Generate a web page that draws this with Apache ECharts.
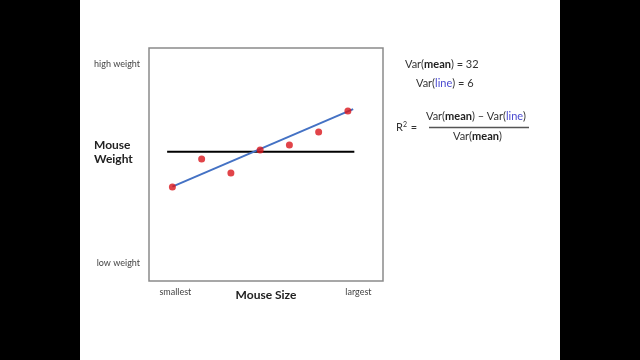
<!DOCTYPE html>
<html>
<head>
<meta charset="utf-8">
<script src="https://cdn.jsdelivr.net/npm/echarts@6/dist/echarts.min.js"></script>
<style>html,body{margin:0;padding:0;background:#000;}#c{width:640px;height:360px;}</style>
</head>
<body>
<div id="c"></div>
<script>
const sizes = [1, 2, 3, 4, 5, 6, 7];
const weights = [40.3, 52.4, 46.4, 56.2, 58.4, 63.9, 73.0];
const meanLineX = [0.82, 7.22];
const meanValue = 55.5;
const fitLineX = [1, 7.18];
const fitLineY = [40.5, 73.8];
const yTickValues = [7.7, 92.9];
const yTickLabels = ['low weight', 'high weight'];
const xTickValues = [1.1, 7.36];
const xTickLabels = ['smallest', 'largest'];
const varMean = 32;
const varLine = 6;

const font = 'Lato, "Open Sans", sans-serif';
const chart = echarts.init(document.getElementById('c'));
function lookup(vals, labels, v) {
  for (let i = 0; i < vals.length; i++) if (Math.abs(vals[i] - v) < 1e-6) return labels[i];
  return '';
}
const blue = '#4a4ad0';
chart.setOption({
  backgroundColor: '#000',
  animation: false,
  grid: { left: 149, top: 48, width: 234, height: 233, show: true, borderColor: '#8a8a8a', borderWidth: 1.5, backgroundColor: '#fff' },
  xAxis: {
    type: 'value', min: 0.2, max: 8.2,
    axisLine: { show: false }, axisTick: { show: false }, splitLine: { show: false },
    axisLabel: { customValues: xTickValues, formatter: v => lookup(xTickValues, xTickLabels, v), color: '#444', fontFamily: font, fontSize: 9, margin: 7 },
    name: 'Mouse Size', nameLocation: 'middle', nameGap: 8, nameMoveOverlap: false,
    nameTextStyle: { color: '#222', fontFamily: font, fontSize: 12, fontWeight: 'bold' }
  },
  yAxis: {
    type: 'value', min: 0, max: 100,
    axisLine: { show: false }, axisTick: { show: false }, splitLine: { show: false },
    axisLabel: { customValues: yTickValues, formatter: v => lookup(yTickValues, yTickLabels, v), color: '#444', fontFamily: font, fontSize: 9, margin: 9 }
  },
  graphic: [
    { type: 'rect', z: -10, silent: true, shape: { x: 80, y: 0, width: 480, height: 360 }, style: { fill: '#fff' } },
    { type: 'text', left: 94, top: 138, style: { text: 'Mouse\nWeight', fontFamily: font, fontSize: 12, fontWeight: 'bold', fill: '#222', lineHeight: 14 } },
    { type: 'text', left: 405, top: 59, style: { text: '{n|Var(}{b|mean}{n|) = ' + varMean + '}', rich: { n: { fontFamily: font, fontSize: 11, fill: '#333' }, b: { fontFamily: font, fontSize: 11, fontWeight: 'bold', fill: '#222' } } } },
    { type: 'text', left: 416, top: 78, style: { text: '{n|Var(}{l|line}{n|) = ' + varLine + '}', rich: { n: { fontFamily: font, fontSize: 11, fill: '#333' }, l: { fontFamily: font, fontSize: 11, fill: blue } } } },
    { type: 'text', left: 396, top: 121, style: { text: '{n|R}{s|2}{n| =}', rich: { n: { fontFamily: font, fontSize: 11, fill: '#333' }, s: { fontFamily: font, fontSize: 7, fill: '#333', verticalAlign: 'top', padding: [0, 1, 5, 0] } } } },
    { type: 'text', left: 426, top: 111, style: { text: '{n|Var(}{b|mean}{n|) \u2013 Var(}{l|line}{n|)}', rich: { n: { fontFamily: font, fontSize: 11, fill: '#333' }, b: { fontFamily: font, fontSize: 11, fontWeight: 'bold', fill: '#222' }, l: { fontFamily: font, fontSize: 11, fill: blue } } } },
    { type: 'line', shape: { x1: 429, y1: 127.5, x2: 529, y2: 127.5 }, style: { stroke: '#555', lineWidth: 1.5 } },
    { type: 'text', left: 453, top: 131, style: { text: '{n|Var(}{b|mean}{n|)}', rich: { n: { fontFamily: font, fontSize: 11, fill: '#333' }, b: { fontFamily: font, fontSize: 11, fontWeight: 'bold', fill: '#222' } } } }
  ],
  series: [
    { type: 'line', data: meanLineX.map(x => [x, meanValue]), symbol: 'none', lineStyle: { color: '#000', width: 2 }, z: 2 },
    { type: 'line', data: fitLineX.map((x, i) => [x, fitLineY[i]]), symbol: 'none', lineStyle: { color: '#4472c4', width: 2 }, z: 3 },
    { type: 'scatter', data: sizes.map((x, i) => [x, weights[i]]), symbolSize: 7, itemStyle: { color: '#d9151b' }, z: 4 }
  ]
});
</script>
</body>
</html>
